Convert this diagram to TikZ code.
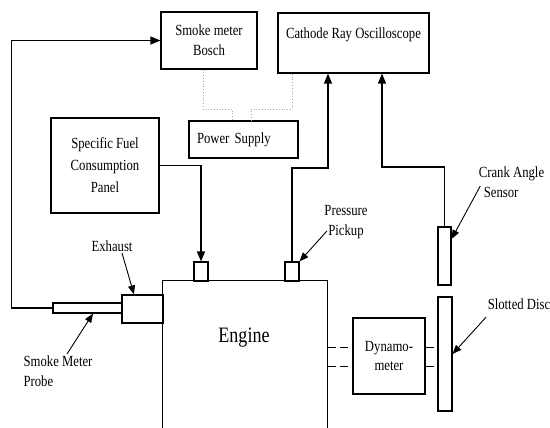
\documentclass[tikz,border=0pt]{standalone}
\usepackage{fontspec}
\setmainfont[FakeStretch=0.82]{Liberation Serif}
\usetikzlibrary{arrows.meta}

\begin{document}
\begin{tikzpicture}[x=1pt, y=-1pt, line width=1.1pt,
    every node/.style={font=\fontsize{15.5}{20}\selectfont, align=center},
    blk/.style={draw, inner sep=0pt},
    lbl/.style={inner sep=1pt},
    arr/.style={-{Triangle[length=10pt,width=8pt]}},
    ptr/.style={line width=0.9pt, -{Triangle[length=9pt,width=7pt]}},
    wire/.style={gray!70, line width=0.8pt, dotted},
    shaft/.style={line width=1pt, dash pattern=on 8pt off 4pt}]
    \useasboundingbox (0,0) rectangle (550,428);

    % instruments
    \node[blk, minimum width=96pt, minimum height=57pt] (smk) at (209,40.5) {Smoke meter\\Bosch};
    \node[blk, minimum width=151pt, minimum height=60pt] (cro) at (353.5,43) {Cathode Ray Oscilloscope\\\mbox{}};
    \node[blk, minimum width=109pt, minimum height=37pt, text width=93pt, inner xsep=8pt, align=left] (ps) at (243.5,139.5) {Power Supply};
    \node[blk, minimum width=108pt, minimum height=95pt, font=\fontsize{15.5}{22}\selectfont] (sfc) at (105,165.5) {Specific Fuel\\Consumption\\Panel};

    % engine and shaft line
    \node[minimum width=164pt, minimum height=147pt, inner sep=0pt] (eng) at (245,354.5) {};
    \draw (eng.south west) -- (eng.north west) -- (eng.north east) -- (eng.south east);
    \node[font=\fontsize{22}{26}\selectfont] (engtxt) at (244,338) {Engine};
    \node[blk, minimum width=41pt, minimum height=28pt] (exh) at (142.5,309) {};
    \node[blk, minimum width=69pt, minimum height=10pt] (prb) at (87.5,308) {};
    \node[blk, minimum width=14pt, minimum height=19pt] (fport) at (201,271.5) {};
    \node[blk, minimum width=14pt, minimum height=19pt] (pport) at (292,271.5) {};
    \node[blk, minimum width=72pt, minimum height=76pt] (dyn) at (389,356) {Dynamo-\\meter};
    \node[blk, minimum width=13pt, minimum height=58pt] (cas) at (444.5,256) {};
    \node[blk, minimum width=14pt, minimum height=114pt] (disc) at (445,354) {};

    % signal lines
    \draw[arr] (prb.west) -- ++(-41,0) |- (smk.west);
    \draw[arr] (sfc.east) -| (fport.north);
    \draw[arr] (pport.north) |- (328,168) -- ([xshift=-25.5pt]cro.south);
    \draw[arr] (cas.north) |- (382,167) -- ([xshift=28.5pt]cro.south);

    % supply wiring
    \draw[wire] ([xshift=-6pt]smk.south) |- (232,109) -- ([xshift=-11.5pt]ps.north);
    \draw[wire] ([xshift=7.5pt]ps.north) |- (292,109) -- ([xshift=-61.5pt]cro.south);

    % couplings
    \foreach \dy/\n in {9/a,-10/b} {
        \coordinate (sh\n) at ([yshift=\dy pt]dyn.west);
        \coordinate (sd\n) at ([yshift=\dy pt]dyn.east);
        \draw[shaft] (eng.east |- sh\n) -- (sh\n);
        \draw[shaft] (sd\n) -- (disc.west |- sd\n);
    }

    % labels
    \node[lbl] (exhlbl) at (112,246) {Exhaust};
    \draw[ptr] ([xshift=10pt]exhlbl.south) -- ([xshift=-8.5pt]exh.north);
    \node[lbl, align=left] (prblbl) at (58,371) {Smoke Meter\\Probe};
    \draw[ptr] ([xshift=9pt]prblbl.north) -- ([xshift=5.5pt]prb.south);
    \node[lbl] (pplbl) at (346,222) {Pressure\\Pickup};
    \draw[ptr] ([xshift=4pt,yshift=-9pt]pplbl.west) -- (pport.north east);
    \node[lbl, align=left] (caslbl) at (511.5,182) {Crank Angle\\\hspace*{5pt}Sensor};
    \draw[ptr] ([xshift=3pt,yshift=-4pt]caslbl.west) -- ([yshift=17pt]cas.east);
    \node[lbl] (sdlbl) at (519,304) {Slotted Disc};
    \draw[ptr] ([yshift=-6pt]sdlbl.south west) -- (disc.east);
\end{tikzpicture}
\end{document}
